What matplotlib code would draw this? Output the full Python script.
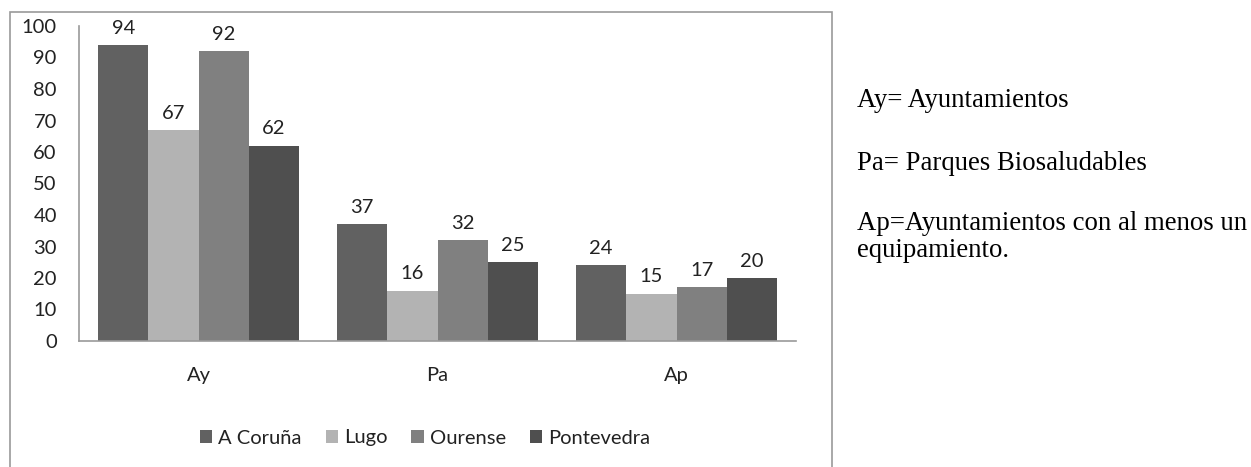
import matplotlib.pyplot as plt
import numpy as np
from matplotlib.patches import Rectangle

categories = ["Ay", "Pa", "Ap"]
provinces = ["A Coruña", "Lugo", "Ourense", "Pontevedra"]
a_coruna = [94, 37, 24]
lugo = [67, 16, 15]
ourense = [92, 32, 17]
pontevedra = [62, 25, 20]
yticks = [0, 10, 20, 30, 40, 50, 60, 70, 80, 90, 100]

notes = [
    "Ay= Ayuntamientos",
    "Pa= Parques Biosaludables",
    "Ap=Ayuntamientos con al menos un\nequipamiento.",
]

colors = ["#616161", "#b3b3b3", "#808080", "#4f4f4f"]
W, H = 1251, 467


def main():
    fig = plt.figure(figsize=(W / 100, H / 100), dpi=100)
    font = "Lato"
    fs = 14.5

    # outer chart frame
    fig.patches.append(
        Rectangle((10 / W, -0.05), 822 / W, 1.05 - 12 / H, transform=fig.transFigure,
                  fill=False, edgecolor="#9a9a9a", linewidth=1.2)
    )

    ax = fig.add_axes([79 / W, (H - 341) / H, 717 / W, 315 / H])
    series = [a_coruna, lugo, ourense, pontevedra]
    x = np.arange(len(categories)) + 0.5
    bw = 0.21
    for i, (vals, name) in enumerate(zip(series, provinces)):
        pos = x + (i - 1.5) * bw
        ax.bar(pos, vals, width=bw, color=colors[i], label=name)
        for p, v in zip(pos, vals):
            ax.annotate(str(v), (p, v), xytext=(0, 6), textcoords="offset points",
                        ha="center", va="bottom", fontsize=fs, family=font, color="#222222")

    ax.set_xlim(0, 3)
    ax.set_ylim(0, 100)
    ax.set_yticks(yticks)
    ax.set_xticks(x)
    ax.set_xticklabels(categories)
    ax.tick_params(length=0, labelsize=fs, colors="#222222")
    ax.tick_params(axis="y", pad=16)
    ax.tick_params(axis="x", pad=19)
    for lab in ax.get_xticklabels() + ax.get_yticklabels():
        lab.set_family(font)
    for s in ["top", "right"]:
        ax.spines[s].set_visible(False)
    for s in ["left", "bottom"]:
        ax.spines[s].set_color("#9a9a9a")
        ax.spines[s].set_linewidth(1.2)

    leg = fig.legend(loc="center", bbox_to_anchor=(425 / W, 1 - 438 / H), ncol=4,
                     frameon=False, handlelength=0.6, handleheight=0.6,
                     handletextpad=0.3, columnspacing=1.2,
                     prop={"family": font, "size": fs})
    for t in leg.get_texts():
        t.set_color("#222222")

    nfs = 19.3
    fig.text(857 / W, 1 - 100 / H, notes[0], family="Liberation Serif", fontsize=nfs, va="center")
    fig.text(857 / W, 1 - 163 / H, notes[1], family="Liberation Serif", fontsize=nfs, va="center")
    fig.text(857 / W, 1 - 237 / H, notes[2], family="Liberation Serif", fontsize=nfs, va="center",
             linespacing=1.15)

    fig.savefig("out.png", dpi=100)


if __name__ == "__main__":
    main()
